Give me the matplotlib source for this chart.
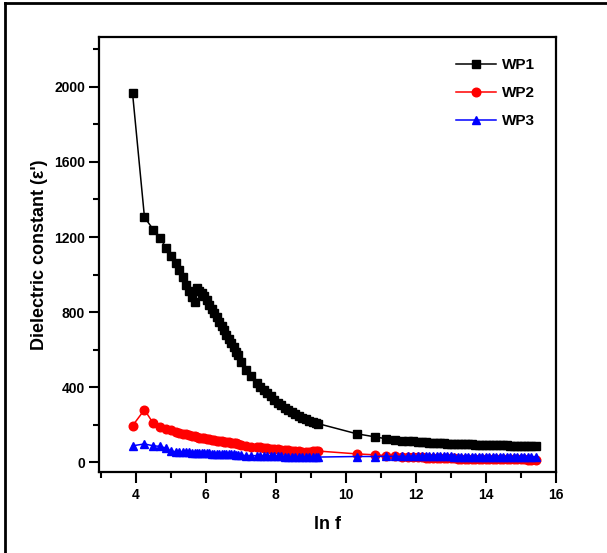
import matplotlib
matplotlib.use("Agg")
import matplotlib.pyplot as plt
from matplotlib.lines import Line2D
from matplotlib.ticker import MultipleLocator

plt.rcParams['font.family'] = ['Liberation Sans', 'DejaVu Sans']
plt.rcParams['font.weight'] = 'bold'

# ln f (gemeinsame x-Werte)
lnf = [3.91, 4.25, 4.50, 4.70, 4.87, 5.01, 5.14, 5.25, 5.35, 5.44, 5.52, 5.60, 5.68,
       5.75, 5.82, 5.89, 5.96, 6.03, 6.10, 6.17, 6.24, 6.31, 6.38, 6.45, 6.52, 6.59,
       6.66, 6.73, 6.80, 6.87, 6.92,
       7.02, 7.16, 7.30, 7.45, 7.55, 7.65, 7.75, 7.85, 7.95, 8.05, 8.15, 8.25, 8.35,
       8.45, 8.55, 8.65, 8.75, 8.85, 8.95, 9.05, 9.15, 9.21,
       10.31, 10.82, 11.16, 11.41, 11.61, 11.78, 11.92, 12.05, 12.17, 12.28, 12.38,
       12.5, 12.6, 12.7, 12.8, 12.9, 13.0, 13.1, 13.2, 13.3, 13.4, 13.5, 13.6, 13.7,
       13.8, 13.9, 14.0, 14.1, 14.2, 14.3, 14.4, 14.5, 14.6, 14.7, 14.8, 14.9, 15.0,
       15.1, 15.2, 15.3, 15.42]

wp1 = [1965, 1305, 1240, 1195, 1140, 1100, 1062, 1025, 985, 945, 910, 880, 856,
       930, 915, 903, 884, 862, 840, 818, 795, 772, 750, 727, 703, 680,
       657, 634, 612, 590, 570,
       535, 493, 458, 423, 402, 383, 367, 351, 334, 318, 303, 290, 278,
       266, 255, 245, 237, 229, 222, 215, 209, 206,
       152, 136, 125, 120, 116, 113, 111, 109, 107, 106, 105,
       104, 103, 102, 101, 100, 99, 98.5, 98, 97, 96.5, 96, 95, 94.5,
       94, 93.5, 93, 92.5, 92, 91.5, 91, 90.5, 90, 89.5, 89, 88.5, 88,
       87.5, 87, 86.5, 86]

wp2 = [195, 280, 208, 190, 178, 170, 163, 158, 153, 149, 145, 141, 138,
       135, 132, 129, 127, 124, 122, 120, 118, 116, 114, 112, 110, 108,
       107, 105, 104, 102, 100,
       92, 88, 84, 81, 79, 77, 75, 73, 71, 69, 67, 65, 63,
       61, 60, 58, 57, 56, 55, 62, 62, 60,
       45, 40, 36, 33, 31, 29, 28, 27, 26, 25, 24,
       23.5, 23, 22.5, 22, 21.5, 21, 20.5, 20, 20, 19.5, 19, 19, 18.5,
       18, 18, 17.5, 17.5, 17, 17, 17, 16.5, 16.5, 16, 16, 16, 15.5,
       15.5, 15, 15, 15]

wp3 = [88, 98, 88, 85, 75, 58, 57, 56, 55, 54, 53, 52, 51,
       50, 50, 49, 48, 48, 47, 46, 46, 45, 45, 44, 44, 43,
       43, 42, 42, 41, 41,
       37, 36, 36, 35, 35, 34, 34, 33, 33, 32, 32, 31, 31,
       30, 30, 30, 29, 29, 29, 28, 28, 28,
       31, 31, 32, 32, 32, 32, 32, 32, 32, 32, 32,
       32, 32, 32, 32, 32, 32, 31, 31, 31, 31, 31, 31, 31,
       31, 31, 31, 31, 31, 31, 31, 30, 30, 30, 30, 30, 30,
       30, 30, 30, 30]

fig = plt.figure(figsize=(6.07, 5.53), dpi=100)
ax = fig.add_axes([0.163, 0.147, 0.753, 0.786])

ax.plot(lnf, wp1, color='black', marker='s', markersize=5.8, linewidth=1.1, label='WP1')
ax.plot(lnf, wp2, color='red', marker='o', markersize=6.2, linewidth=1.1, label='WP2')
ax.plot(lnf, wp3, color='blue', marker='^', markersize=6.2, linewidth=1.1, label='WP3')

ax.set_xlim(2.95, 16)
ax.set_ylim(-50, 2265)
ax.xaxis.set_major_locator(MultipleLocator(2))
ax.xaxis.set_minor_locator(MultipleLocator(1))
ax.yaxis.set_major_locator(MultipleLocator(400))
ax.yaxis.set_minor_locator(MultipleLocator(200))
ax.tick_params(axis='x', which='major', direction='out', length=8, width=1.5, labelsize=10, pad=4)
ax.tick_params(axis='y', which='major', direction='out', length=7, width=1.5, labelsize=10, pad=3)
ax.tick_params(which='minor', direction='out', length=4, width=1.5)
for s in ax.spines.values():
    s.set_linewidth(1.6)

ax.set_xlabel('ln f', fontsize=13, fontweight='bold', labelpad=10)
ax.set_ylabel("Dielectric constant (ε')", fontsize=13, fontweight='bold', labelpad=4)

ax.legend(loc='upper right', frameon=False, fontsize=11, handlelength=2.6,
          borderaxespad=1.0, handletextpad=0.4, labelspacing=0.9)

# Rahmen um die Grafik
fig.add_artist(Line2D([5/607, 5/607], [0, 1-3/553], transform=fig.transFigure, color='black', lw=2))
fig.add_artist(Line2D([5/607, 1], [1-3/553, 1-3/553], transform=fig.transFigure, color='black', lw=2))

fig.savefig('out.png', dpi=100)
